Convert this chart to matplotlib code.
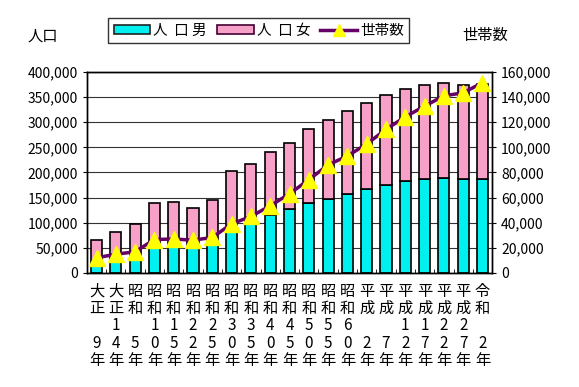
import matplotlib

matplotlib.use("Agg")
import matplotlib.pyplot as plt
from matplotlib.lines import Line2D
from matplotlib.patches import Patch
from matplotlib.ticker import FuncFormatter, MultipleLocator

plt.rcParams["font.family"] = ["Noto Sans CJK JP", "DejaVu Sans"]

# era, year for each census
eras = ["大正", "大正", "昭和", "昭和", "昭和", "昭和", "昭和", "昭和", "昭和", "昭和", "昭和",
        "昭和", "昭和", "昭和", "平成", "平成", "平成", "平成", "平成", "平成", "令和"]
years = ["9", "14", "5", "10", "15", "22", "25", "30", "35", "40", "45",
         "50", "55", "60", "2", "7", "12", "17", "22", "27", "2"]

male = [18000, 24500, 30000, 53400, 54800, 51500, 58500, 85300, 99000, 115200, 126500,
        138500, 148000, 157200, 167000, 175500, 182000, 187500, 188200, 187500, 186500]
female = [46800, 56300, 68000, 86100, 86600, 76700, 85700, 117700, 117000, 124600, 132000,
          147300, 156800, 164800, 171000, 178500, 183500, 186000, 189800, 187500, 190500]
households = [12000, 14800, 16800, 26500, 27000, 26000, 28200, 39000, 44900, 53400, 63000,
              74200, 86000, 93100, 102600, 114300, 124300, 132800, 141000, 143400, 151500]


def stacked(era, yr):
    d = yr if len(yr) == 2 else " " + yr
    return "\n".join([era[0], era[1], d[0], d[1], "年"])


labels = [stacked(e, y) for e, y in zip(eras, years)]
x = list(range(len(labels)))

CYAN = "#00F0F0"
PINK = "#F7A1C9"
PURPLE = "#660066"

fig = plt.figure(figsize=(5.79, 3.87), dpi=100)
ax = fig.add_axes([0.150, 0.295, 0.700, 0.519])

ax.bar(x, male, width=0.58, color=CYAN, edgecolor="black", linewidth=1.2, zorder=2)
ax.bar(x, female, bottom=male, width=0.58, color=PINK, edgecolor="black", linewidth=1.2, zorder=2)
ax.set_ylim(0, 400000)
ax.set_xlim(-0.5, len(x) - 0.5)
ax.yaxis.set_major_locator(MultipleLocator(50000))
ax.yaxis.set_major_formatter(FuncFormatter(lambda v, p: f"{int(v):,}"))
ax.grid(axis="y", color="#333333", linewidth=0.8, zorder=0)
ax.set_axisbelow(True)

ax.set_xticks(x)
ax.set_xticklabels(labels, fontsize=11, linespacing=1.03)
ax.tick_params(axis="x", which="major", length=0, pad=7)
ax.set_xticks([i + 0.5 for i in x[:-1]], minor=True)
ax.tick_params(axis="x", which="minor", length=3, direction="in")
ax.tick_params(axis="y", labelsize=10, length=3)

ax2 = ax.twinx()
ax2.plot(x, households, color=PURPLE, linewidth=2.5, marker="^", markersize=11,
         markerfacecolor="#FFFF00", markeredgecolor="#FFFF00", zorder=5)
ax2.set_ylim(0, 160000)
ax2.yaxis.set_major_locator(MultipleLocator(20000))
ax2.yaxis.set_major_formatter(FuncFormatter(lambda v, p: f"{int(v):,}"))
ax2.tick_params(axis="y", labelsize=10, length=3)

for a in (ax, ax2):
    for s in a.spines.values():
        s.set_linewidth(1.0)

fig.text(0.073, 0.907, "人口", fontsize=11, ha="center", va="center")
fig.text(0.838, 0.907, "世帯数", fontsize=11, ha="center", va="center")

handles = [
    Patch(facecolor=CYAN, edgecolor="#222222", linewidth=1.2),
    Patch(facecolor=PINK, edgecolor="#440033", linewidth=1.2),
    Line2D([0], [0], color=PURPLE, linewidth=2.5, marker="^", markersize=9,
           markerfacecolor="#FFFF00", markeredgecolor="#FFFF00"),
]
fig.legend(handles, ["人  口 男", "人  口 女", "世帯数"], loc="center",
           bbox_to_anchor=(0.447, 0.921), ncol=3, fontsize=10.5, frameon=True,
           fancybox=False, edgecolor="black", handlelength=2.5, handleheight=0.6,
           columnspacing=0.7, handletextpad=0.2, borderpad=0.4)

fig.savefig("out.png", dpi=100)
